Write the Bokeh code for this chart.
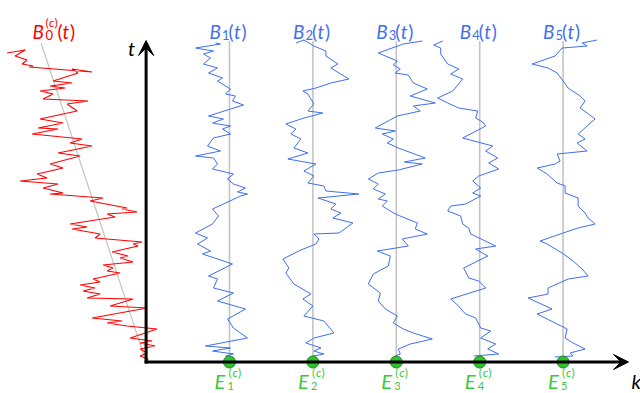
from bokeh.plotting import figure
from bokeh.models import Range1d, Label, Arrow, VeeHead
from bokeh.embed import file_html
from bokeh.resources import INLINE

# ---------------- data ----------------
# time t: 0 on the k axis, grows upward; displacement in the same units
K_SPACING = 83.4            # displacement units between successive E_j
k_positions = [1, 2, 3, 4, 5]
t_top = 321.5               # end of the t axis
k_end = 482.4               # end of the k axis
grey_top = 321

# B_0^(c)(t): displacement from origin
b0_x = [-139, -121, -131, -119, -124, -113, -117, -54, -74, -68, -93, -74, -96, -81, -106, -93, -103, -58,
        -79, -69, -83, -106, -83, -108, -88, -114, -64, -76, -54, -88, -66, -96, -83, -109, -99, -126, -88,
        -103, -83, -96, -43, -56, -19, -24, -9, -39, -31, -76, -59, -74, -46, -51, -4, -13, -8, -34, -18,
        -26, -13, -43, -33, -39, -26, -53, -46, -66, -51, -63, -46, -59, -13, -36, 1, -54, -24, -39, -19,
        11, -16, 6, -6, 9, -6, 1, -6, 2, 0]
b0_t = [309, 312, 306, 302, 298, 296, 295, 290, 293, 289, 281, 279, 276, 274, 271, 268, 263, 261,
        258, 251, 248, 243, 239, 234, 233, 228, 223, 219, 216, 209, 206, 198, 194, 188, 184, 181, 178,
        174, 169, 168, 164, 161, 154, 153, 150, 148, 145, 138, 135, 133, 128, 124, 120, 118, 116, 110, 106,
        104, 100, 97, 94, 91, 89, 83, 80, 77, 74, 71, 68, 64, 63, 56, 54, 44, 41, 39, 36,
        33, 24, 21, 19, 16, 13, 9, 6, 3, 0]
b0_drift_x = [0, -105]
b0_drift_t = [0, 319]

# B_1 .. B_5: displacement from their own E_j
b1_x = [-14, -9, -34, -16, -26, -19, -26, -12, -21, -7, -12, 1, -4, 6, 3, 14, 1, -21, -6, -17, 1, -7, 1,
        -16, -22, -9, -34, -16, -12, -17, 4, -2, 4, 16, 8, 18, 11, -6, -17, -11, -17, -34, -22, -32, -19,
        -27, 3, -21, -12, -16, 4, -12, 16, -2, 4, 18, -24, 1, -17, 4, -4, 0]
b1_t = [319, 318, 314, 311, 308, 304, 298, 294, 289, 284, 281, 273, 268, 266, 261, 257, 253, 246, 243,
        239, 236, 233, 228, 224, 216, 211, 206, 204, 198, 193, 188, 183, 178, 174, 170, 168, 166, 158, 153,
        146, 138, 129, 124, 118, 111, 108, 98, 86, 83, 74, 69, 61, 53, 43, 34, 24, 16, 14, 11, 8, 6, 2]

b2_x = [-17, -9, 1, 13, 13, 25, 18, 36, 18, 3, -10, -5, 1, -5, 10, -9, -27, -17, -22, -12, -19, -5, -25,
        3, -9, 1, -5, 11, 13, 46, 5, 23, 18, 28, 20, 40, 26, 1, 6, 3, -12, -30, -24, -27, -19, -2, -10, 0,
        -9, 11, 21, 1, -7, 8, 1, 11, 0]
b2_t = [319, 322, 316, 311, 306, 298, 294, 283, 279, 274, 271, 268, 258, 251, 249, 244, 238, 233, 228,
        223, 214, 209, 203, 198, 191, 186, 179, 176, 171, 168, 164, 158, 153, 149, 144, 139, 129, 128, 123,
        118, 112, 103, 94, 89, 78, 68, 63, 56, 46, 41, 29, 24, 19, 14, 11, 8, 6]

b3_x = [26, 7, -18, 1, -3, 4, -1, 12, 17, 31, 14, 39, 17, 24, 1, -21, -1, -14, -3, -9, 2, 29, 8, 26, 2,
        -18, -28, -18, -23, -11, -18, -9, -14, -1, 21, 19, 31, 6, 12, -19, -6, -8, -23, -28, -16, -18, -11,
        1, -3, 7, 17, 36, 14, 2, 4, -1]
b3_t = [321, 318, 309, 301, 297, 293, 289, 287, 279, 273, 266, 259, 256, 251, 246, 234, 231, 228, 223,
        219, 214, 204, 200, 198, 192, 189, 183, 178, 173, 168, 163, 161, 156, 148, 139, 133, 128, 123, 116,
        111, 106, 96, 88, 78, 69, 61, 53, 46, 39, 33, 29, 23, 18, 13, 8, 6]

b4_x = [-37, -46, -39, -39, -32, -21, -29, -17, -27, -42, -32, -21, -2, -4, 3, 6, -17, 13, 6, 18, 9, 19,
        -1, -7, 1, -7, 1, -14, -29, -32, -19, -17, -11, -9, 16, -4, 8, -16, -11, -1, 6, -29, -21, -17, -14,
        -4, 1, 11, 1, 16, 8, 19, -6]
b4_t = [321, 317, 314, 308, 298, 293, 288, 283, 271, 264, 259, 254, 251, 244, 240, 236, 224, 216, 211,
        204, 199, 193, 186, 181, 174, 169, 166, 158, 156, 151, 146, 138, 134, 128, 116, 113, 106, 94, 84,
        81, 74, 63, 56, 51, 48, 44, 34, 31, 24, 18, 13, 8, 6]

b5_x = [34, 19, 24, -1, -8, -31, -15, -6, 0, 5, 17, 22, 17, 24, 32, 24, 15, 22, 14, 24, -6, -3, -8, -26,
        -16, -6, 2, 2, 15, 15, 22, 25, 32, 15, 0, -23, -16, -1, 10, 19, 25, 5, -15, -15, -35, -11, -26, 4,
        2, 10, 22, 7, 10, -8]
b5_t = [322, 319, 316, 314, 306, 298, 294, 289, 281, 274, 266, 261, 254, 249, 243, 236, 228, 223, 219,
        211, 208, 201, 198, 194, 188, 179, 176, 169, 164, 156, 149, 144, 138, 134, 129, 121, 118, 109, 101,
        93, 86, 83, 74, 68, 64, 53, 48, 33, 24, 19, 13, 9, 6, 5]

walks_x = [b1_x, b2_x, b3_x, b4_x, b5_x]
walks_t = [b1_t, b2_t, b3_t, b4_t, b5_t]

# ---------------- styling ----------------
RED = "#ff0000"
BLUE = "#3f6ff2"
GREEN_TXT = "#3cc83c"
GREEN_FILL = "#2ec22e"
GREEN_EDGE = "#1c8c1c"
GREY = "#c4c4c4"
FONT = "Lato"

W, H = 640, 393
X0, X1 = -145.6, 494.4
Y0, Y1 = -31.5, 361.5

p = figure(width=W, height=H, x_range=Range1d(X0, X1), y_range=Range1d(Y0, Y1),
           output_backend="svg", toolbar_location=None, min_border=0,
           x_axis_type=None, y_axis_type=None, outline_line_color=None)
p.xgrid.visible = False
p.ygrid.visible = False
p.background_fill_color = "white"

# grey guide lines
p.line(b0_drift_x, b0_drift_t, color=GREY, line_width=1.2)
for k in k_positions:
    p.line([k * K_SPACING, k * K_SPACING], [0, grey_top], color=GREY, line_width=1.6)

# axes with arrows
p.add_layout(Arrow(end=VeeHead(size=15, fill_color="black", line_color="black", line_width=1),
                   x_start=0, y_start=-1.5, x_end=0, y_end=t_top, line_width=3, line_color="black"))
p.add_layout(Arrow(end=VeeHead(size=15, fill_color="black", line_color="black", line_width=1),
                   x_start=-1.5, y_start=0, x_end=k_end, y_end=0, line_width=3, line_color="black"))

# random walks
p.line(b0_x, b0_t, color=RED, line_width=1.1)
for k, xs, ts in zip(k_positions, walks_x, walks_t):
    p.line([k * K_SPACING + v for v in xs], ts, color=BLUE, line_width=1.0)

# green points E_j
p.scatter([k * K_SPACING for k in k_positions], [0] * len(k_positions), size=12,
          fill_color=GREEN_FILL, line_color=GREEN_EDGE, line_width=1)


def piece(x, y, txt, dx, dy, size, style, color):
    p.add_layout(Label(x=x, y=y, x_offset=dx, y_offset=dy, text=txt,
                       text_font=FONT, text_font_size=f"{size}px", text_font_style=style,
                       text_color=color, text_align="left", text_baseline="alphabetic"))


# B_j(t) labels
B_BASE = 330.5
for k in k_positions:
    cx = k * K_SPACING
    piece(cx, B_BASE, "B", -20, 0, 19, "italic", BLUE)
    piece(cx, B_BASE, str(k), -7.5, -3.5, 13, "normal", BLUE)
    piece(cx, B_BASE, "(", -1, 0, 19, "normal", BLUE)
    piece(cx, B_BASE, "t", 4.5, 0, 19, "italic", BLUE)
    piece(cx, B_BASE, ")", 12, 0, 19, "normal", BLUE)

# B_0^(c)(t) label
bx = -113.6
piece(bx, B_BASE, "B", 0, 0, 19, "italic", RED)
piece(bx, B_BASE, "(", 13, 9, 12, "normal", RED)
piece(bx, B_BASE, "c", 16.5, 9, 12, "italic", RED)
piece(bx, B_BASE, ")", 22, 9, 12, "normal", RED)
piece(bx, B_BASE, "0", 13, -3.5, 13, "normal", RED)
piece(bx, B_BASE, "(", 25, 0, 19, "normal", RED)
piece(bx, B_BASE, "t", 30, 0, 19, "italic", RED)
piece(bx, B_BASE, ")", 37.5, 0, 19, "normal", RED)

# E_j^(c) labels
E_BASE = -18.5
for k in k_positions:
    cx = k * K_SPACING
    piece(cx, E_BASE, "E", -15, 0, 20, "italic", GREEN_TXT)
    piece(cx, E_BASE, "(", -1, 8, 12, "normal", GREEN_TXT)
    piece(cx, E_BASE, "c", 3, 8, 12, "italic", GREEN_TXT)
    piece(cx, E_BASE, ")", 8.5, 8, 12, "normal", GREEN_TXT)
    piece(cx, E_BASE, str(k), -2, -5, 11, "normal", GREEN_TXT)

# axis names
piece(0, 314.5, "t", -18, 0, 20, "italic", "black")
piece(k_end, -19.0, "k", 3, 0, 20, "italic", "black")

open("out.html", "w").write(file_html(p, INLINE))
